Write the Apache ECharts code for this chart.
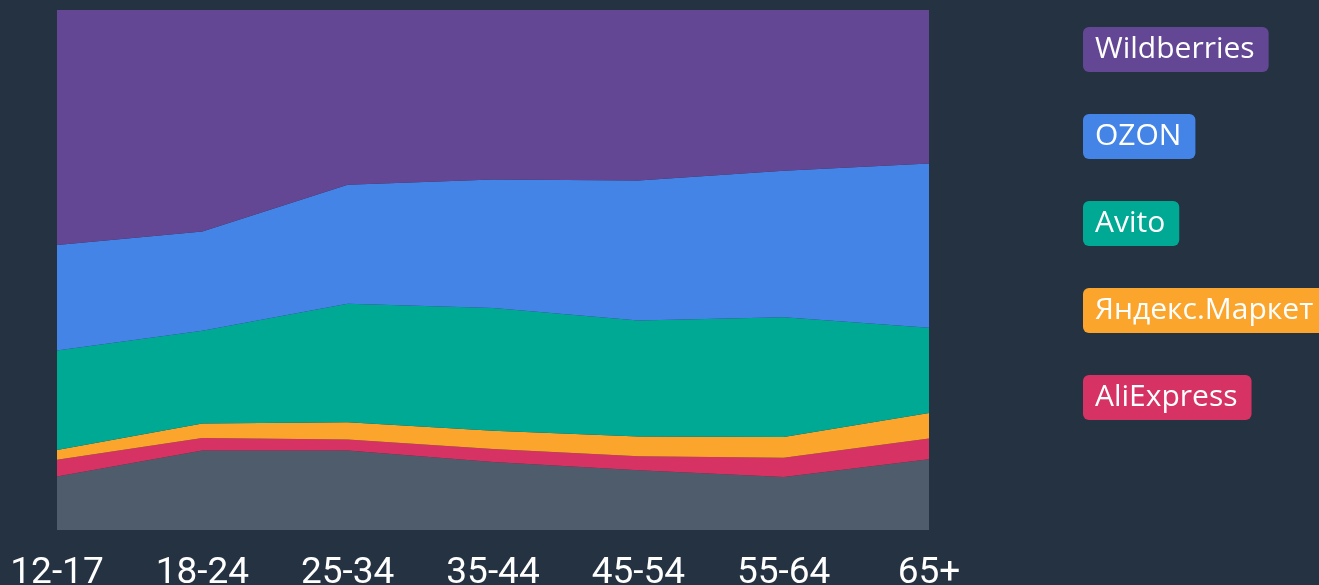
<!DOCTYPE html>
<html>
<head>
<meta charset="utf-8">
<script src="https://cdn.jsdelivr.net/npm/echarts@6/dist/echarts.min.js"></script>
<style>
html,body{margin:0;padding:0;background:#243242;}
#chart{width:1319px;height:585px;}
</style>
</head>
<body>
<div id="chart"></div>
<script>
const categories = ['12-17', '18-24', '25-34', '35-44', '45-54', '55-64', '65+'];
const other       = [10.3, 15.3, 15.3, 13.1, 11.5, 10.2, 13.6];
const aliexpress  = [3.2, 2.4, 2.1, 2.5, 2.7, 3.7, 4.0];
const yandex      = [1.9, 2.8, 3.3, 3.5, 3.8, 4.0, 4.9];
const avito       = [19.1, 17.8, 22.8, 23.6, 22.3, 23.0, 16.4];
const ozon        = [20.3, 19.1, 22.9, 24.7, 26.9, 28.2, 31.6];
const wildberries = [45.2, 42.6, 33.6, 32.6, 32.8, 30.9, 29.5];

const names  = ['Wildberries', 'OZON', 'Avito', 'Яндекс.Маркет', 'AliExpress'];
const colors = {
  'Другие': '#4f5c6b',
  'AliExpress': '#d63263',
  'Яндекс.Маркет': '#fba52c',
  'Avito': '#00a994',
  'OZON': '#4384e6',
  'Wildberries': '#634795'
};

const stackOrder = [
  ['Другие', other],
  ['AliExpress', aliexpress],
  ['Яндекс.Маркет', yandex],
  ['Avito', avito],
  ['OZON', ozon],
  ['Wildberries', wildberries]
];

const chart = echarts.init(document.getElementById('chart'));
chart.setOption({
  backgroundColor: '#243242',
  animation: false,
  grid: { left: 57, right: 390, top: 10, bottom: 55, containLabel: false, outerBoundsMode: 'none' },
  xAxis: {
    type: 'category',
    data: categories,
    boundaryGap: false,
    axisLine: { show: false },
    axisTick: { show: false },
    splitLine: { show: false },
    axisLabel: {
      color: '#ffffff',
      fontSize: 37,
      fontFamily: 'Roboto',
      margin: 25
    }
  },
  yAxis: {
    type: 'value',
    min: 0,
    max: 100,
    show: false
  },
  legend: {
    orient: 'vertical',
    left: 1078,
    top: 27,
    padding: 0,
    itemGap: 42,
    itemWidth: 0,
    itemHeight: 0,
    icon: 'rect',
    selectedMode: false,
    data: names.map(n => ({
      name: n,
      textStyle: {
        color: '#ffffff',
        fontSize: 30,
        fontFamily: 'Open Sans',
        backgroundColor: colors[n],
        borderRadius: 6,
        padding: [8, 14, 7, 12],
        lineHeight: 30
      }
    }))
  },
  series: stackOrder.map(([n, d]) => ({
    name: n,
    type: 'line',
    stack: 'total',
    data: d,
    symbol: 'none',
    lineStyle: { width: 0 },
    itemStyle: { color: colors[n] },
    areaStyle: { color: colors[n], opacity: 1 }
  }))
});
</script>
</body>
</html>
